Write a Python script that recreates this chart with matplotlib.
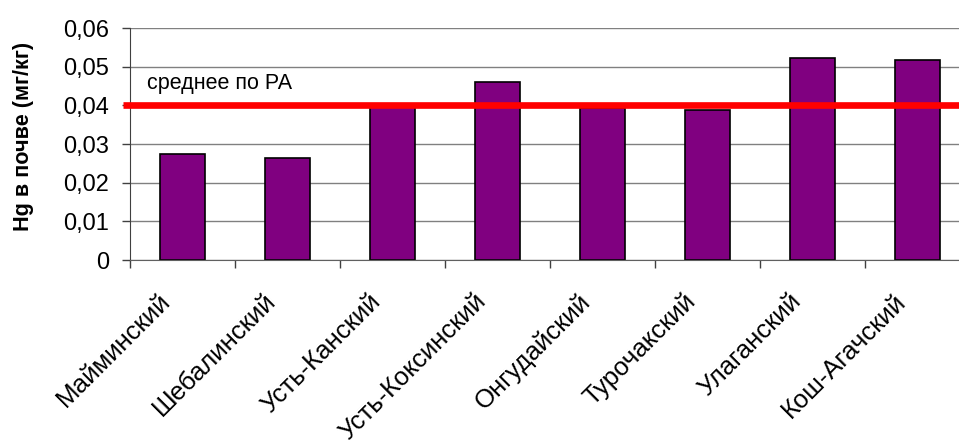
import numpy as np
import matplotlib
matplotlib.use("Agg")
import matplotlib.pyplot as plt
from matplotlib.ticker import FixedLocator, FuncFormatter

plt.rcParams['font.family'] = ['Liberation Sans', 'DejaVu Sans']

# data
districts = ['Майминский', 'Шебалинский', 'Усть-Канский', 'Усть-Коксинский',
             'Онгудайский', 'Турочакский', 'Улаганский', 'Кош-Агачский']
hg_values = [0.0274, 0.0265, 0.0396, 0.0461, 0.0392, 0.0388, 0.0522, 0.0517]
mean_ra = 0.040
mean_label = 'среднее по РА'
y_ticks = [0, 0.01, 0.02, 0.03, 0.04, 0.05, 0.06]

W, H = 959, 440
fig = plt.figure(figsize=(W / 100, H / 100), dpi=100)
# axes spans past the right edge, as in the original
ax = fig.add_axes([130 / W, 1 - 260 / H, (970 - 130) / W, (260 - 28) / H])

x = np.arange(len(districts))
ax.bar(x, hg_values, width=0.42, color='#800080', edgecolor='black',
       linewidth=1.2, zorder=3)

# mean line over the bars
ax.plot([-0.57, 7.6], [mean_ra, mean_ra], color='#ff0000', linewidth=4.8,
        solid_capstyle='butt', clip_on=False, zorder=4)
ax.text(-0.34, 0.0442, mean_label, fontsize=15.5, ha='left', va='baseline',
        zorder=5)

ax.set_xlim(-0.5, 7.5)
ax.set_ylim(0, 0.06)

ax.yaxis.set_major_locator(FixedLocator(y_ticks))
ax.yaxis.set_major_formatter(FuncFormatter(
    lambda v, p: '0' if v == 0 else ('%.2f' % v).replace('.', ',')))
ax.grid(axis='y', color='#808080', linewidth=1.0, zorder=0)

# ticks at category boundaries, labels near centres
ax.xaxis.set_major_locator(FixedLocator(np.arange(-0.5, 7.6, 1.0)))
ax.xaxis.set_major_formatter(FuncFormatter(lambda v, p: ''))
ax.xaxis.set_minor_locator(FixedLocator(x - 0.15))
ax.set_xticklabels(districts, minor=True)
ax.tick_params(axis='x', which='major', direction='out', length=6,
               width=1, color='#404040')
ax.tick_params(axis='x', which='minor', length=0, pad=27, labelsize=18.5)
for lab in ax.get_xticklabels(minor=True):
    lab.set_rotation(45)
    lab.set_ha('right')
    lab.set_va('center')
    lab.set_rotation_mode('anchor')

ax.tick_params(axis='y', direction='out', length=6, width=1, color='#404040',
               pad=9, labelsize=17)

for side in ['top', 'right']:
    ax.spines[side].set_visible(False)
ax.spines['left'].set_color('#404040')
ax.spines['bottom'].set_color('#606060')
ax.spines['bottom'].set_zorder(6)

fig.text(24 / W, 1 - 136.5 / H, 'Hg в почве (мг/кг)', fontsize=15.6,
         fontweight='bold', rotation=90, ha='center', va='center')

fig.savefig('out.png', dpi=100)
